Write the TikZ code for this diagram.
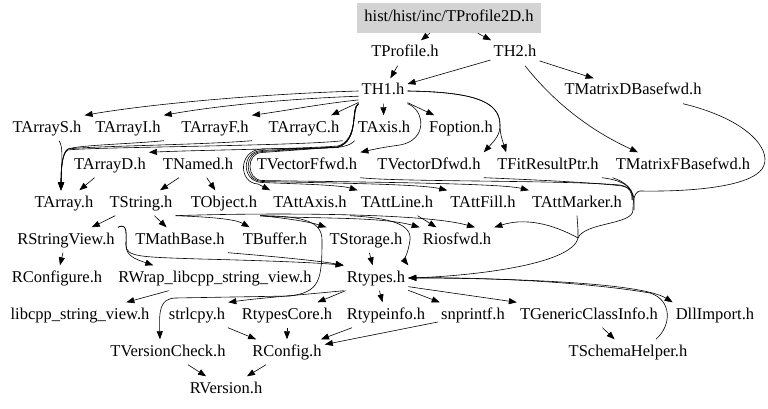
\documentclass[tikz,border=0pt]{standalone}
\usepackage{fontspec}
\setmainfont{Liberation Serif}
\usetikzlibrary{arrows.meta,calc}
\definecolor{rootgray}{RGB}{211,211,211}
\begin{document}
\begin{tikzpicture}[x=1pt,y=-1pt,
  n/.style={inner xsep=3pt,inner ysep=5pt,text height=11.5pt,text depth=3.5pt,font=\fontsize{16.5}{18}\selectfont},
  e/.style={-{Triangle[length=8pt,width=6pt]},line width=0.6pt},
  ln/.style={line width=0.6pt}]
\useasboundingbox (0,0) rectangle (768,409);
\fill[white] (0,0) rectangle (768,409);
% nodes
\node[n,fill=rootgray,minimum width=184pt,minimum height=30pt] (P2D) at (449,18) {hist/hist/inc/TProfile2D.h};
\node[n] (TProfile) at (405,53) {TProfile.h};
\node[n] (TH2) at (515,53) {TH2.h};
\node[n] (TH1) at (383,91) {TH1.h};
\node[n] (TMatD) at (633,91) {TMatrixDBasefwd.h};
\node[n] (TArrayS) at (47,128) {TArrayS.h};
\node[n] (TArrayI) at (128,128) {TArrayI.h};
\node[n] (TArrayF) at (215,128) {TArrayF.h};
\node[n] (TArrayC) at (304,128) {TArrayC.h};
\node[n] (TAxis) at (384,128) {TAxis.h};
\node[n] (Foption) at (461,128) {Foption.h};
\node[n] (TArrayD) at (110,165) {TArrayD.h};
\node[n] (TNamed) at (198,165) {TNamed.h};
\node[n] (TVecF) at (307,165) {TVectorFfwd.h};
\node[n] (TVecD) at (429,165) {TVectorDfwd.h};
\node[n] (TFit) at (548,165) {TFitResultPtr.h};
\node[n] (TMatF) at (683,165) {TMatrixFBasefwd.h};
\node[n] (TArray) at (64,203) {TArray.h};
\node[n] (TString) at (141,203) {TString.h};
\node[n] (TObject) at (224,203) {TObject.h};
\node[n] (TAttAxis) at (310,203) {TAttAxis.h};
\node[n] (TAttLine) at (397,203) {TAttLine.h};
\node[n] (TAttFill) at (483,203) {TAttFill.h};
\node[n] (TAttMarker) at (577,203) {TAttMarker.h};
\node[n] (RStringView) at (66,240) {RStringView.h};
\node[n] (TMathBase) at (180,240) {TMathBase.h};
\node[n] (TBuffer) at (275,240) {TBuffer.h};
\node[n] (TStorage) at (366,240) {TStorage.h};
\node[n] (Riosfwd) at (457,240) {Riosfwd.h};
\node[n] (RConfigure) at (57,278) {RConfigure.h};
\node[n] (RWrap) at (215,278) {RWrap\_libcpp\_string\_view.h};
\node[n] (Rtypes) at (376,278) {Rtypes.h};
\node[n] (libcpp) at (80,315) {libcpp\_string\_view.h};
\node[n] (strlcpy) at (197,315) {strlcpy.h};
\node[n] (RtypesCore) at (287,315) {RtypesCore.h};
\node[n] (Rtypeinfo) at (386,315) {Rtypeinfo.h};
\node[n] (snprintf) at (473,315) {snprintf.h};
\node[n] (TGeneric) at (589,315) {TGenericClassInfo.h};
\node[n] (DllImport) at (715,315) {DllImport.h};
\node[n] (TVersionCheck) at (168,352) {TVersionCheck.h};
\node[n] (RConfig) at (287,352) {RConfig.h};
\node[n] (TSchemaHelper) at (628,352) {TSchemaHelper.h};
\node[n] (RVersion) at (226,389) {RVersion.h};
% top edges
\draw[e] (P2D) -- (TProfile);
\draw[e] (P2D) -- (TH2);
\draw[e] (TProfile) -- (TH1);
\draw[e] (TH2) -- (TH1);
\draw[e] (TH2) -- (TMatD);
\draw[e] ($(TH2.south)+(10,0)$) .. controls (560,110) and (600,135) .. ($(TMatF.north)+(-45,0)$);
\draw[e] (TH1.west) .. controls (260,94) and (150,104) .. (TArrayS.north east);
\draw[e] (TH1.192) .. controls (280,99) and (210,107) .. (TArrayI.north east);
\draw[e] (TH1.200) .. controls (320,104) and (290,110) .. (TArrayF.north east);
\draw[e] (TH1) -- (TArrayC);
\draw[e] (TH1) -- (TAxis);
\draw[e] (TH1) -- (Foption);
% TArray bundle
\draw[e] ($(TArrayS.south)+(12,0)$) .. controls (63,147) and (62,155) .. ($(TArray.north)+(-3,0)$);
\draw[e] (TArrayI.south east) .. controls (130,144) and (80,145) .. (68,149) .. controls (62,152) and (61,170) .. ($(TArray.north)+(-3,0)$);
\draw[e] (TArrayF.south east) .. controls (200,145) and (90,146) .. (68,149) .. controls (62,152) and (61,170) .. ($(TArray.north)+(-3,0)$);
\draw[e] (TArrayC.south east) .. controls (300,146) and (90,147) .. (68,150) .. controls (62,153) and (61,170) .. ($(TArray.north)+(-3,0)$);
\draw[e] (TArrayD) -- (TArray);
% around TAxis
\draw[e] (TH1.south west) .. controls (352,108) and (358,140) .. (338,146) .. controls (300,149) and (200,150) .. (TArrayD.north east);
\draw[e] (TAxis.south west) .. controls (350,146) and (340,148) .. (325,148) -- (262,149) .. controls (238,150) and (238,183) .. (258,184) -- (TAttAxis.north west);
\draw[e] (TH1.south west) .. controls (350,108) and (360,140) .. (338,147) -- (262,150.5) .. controls (241,151) and (241,181.5) .. (262,182.5) .. controls (300,184) and (340,185) .. (TAttLine.north west);
\draw[e] (TH1.south west) .. controls (350,108) and (360,140) .. (338,147) -- (262,151.5) .. controls (243.5,152) and (243.5,180.5) .. (262,181.5) .. controls (330,183) and (420,184) .. (TAttFill.north west);
\draw[e] (TH1.south west) .. controls (350,108) and (360,140) .. (338,147) -- (262,152.5) .. controls (246,153) and (246,179.5) .. (262,180.5) .. controls (350,182) and (500,183) .. (TAttMarker.north west);
\draw[e] (TH1.south east) .. controls (425,110) and (428,140) .. (400,145) .. controls (385,147) and (375,149) .. (TVecF.north east);
\draw[e] (TH1.east) .. controls (470,92) and (500,100) .. (500,125) .. controls (500,135) and (495,140) .. (TVecD.north east);
\draw[e] (TH1.east) .. controls (470,92) and (500,100) .. (500,125) .. controls (500,135) and (503,142) .. ($(TFit.north west)+(12,0)$);
% right bundle to Rtypes
\draw[e] ($(TMatD.south)+(50,0)$) .. controls (750,120) and (770,150) .. (764,165) .. controls (758,185) and (700,192) .. (640,191) .. controls (633,192) and (633,205) .. (633,210) .. controls (633,225) and (585,222) .. (578,238) .. controls (572,265) and (470,276) .. (Rtypes.east);
\draw[ln] (TMatF.south west) .. controls (625,182) and (633,188) .. (633,200);
\draw[ln] (TVecF.south east) .. controls (400,182) and (560,180) .. (620,185) .. controls (630,187) and (632,192) .. (632,200);
\draw[ln] (TVecD.south east) .. controls (540,180) and (600,183) .. (622,186) .. controls (631,188) and (633,192) .. (633,200);
\draw[ln] (TFit.south east) .. controls (620,180) and (633,185) .. (634,200) -- (634,210);
\draw[ln] (TAttMarker.south) -- (578,230) -- (578,238);
\draw[e] (578,238) .. controls (560,228) and (530,216) .. (Riosfwd.north east);
% middle
\draw[e] (TNamed) -- (TString);
\draw[e] (TNamed) -- (TObject);
\draw[e] (TString) -- (TMathBase);
\draw[e] (TString) -- (RStringView);
\draw[e] (RStringView.north east) .. controls (128,222) and (126,235) .. (126,245) .. controls (126,256) and (135,259) .. ($(RWrap.north west)+(38,0)$);
\draw[e] (RStringView.north east) .. controls (128,222) and (126,235) .. (126,245) .. controls (126,257) and (140,257) .. (200,259) .. controls (280,261) and (320,263) .. (Rtypes.north west);
\draw[e] (TMathBase.south east) .. controls (280,257) and (320,261) .. (Rtypes.north west);
\draw[e] (TString.south east) .. controls (210,217) and (235,219) .. ($(TBuffer.north west)+(10,0)$);
\draw[e] (TString.south east) .. controls (250,213) and (420,212) .. ($(Riosfwd.north)+(18,0)$);
\draw[e] (TObject.south east) .. controls (285,218) and (310,222) .. (TStorage.north west);
\draw[e] (TObject.south east) .. controls (300,219) and (380,216) .. (Riosfwd.north west);
\draw[e] (TObject.south east) .. controls (305,216) and (322,222) .. (322,240) .. controls (322,280) and (320,292) .. (290,296) -- (175,298) .. controls (160,299) and (159,310) .. ($(TVersionCheck.north)+(-8,0)$);
\draw[e] (TStorage) -- (Rtypes);
\draw[e] (TAttAxis.south east) .. controls (390,218) and (412,224) .. (410,240) .. controls (408,254) and (404,260) .. (Rtypes.north east);
\draw[e] (TAttLine) -- (Riosfwd);
\draw[e] (RStringView) -- (RConfigure);
\draw[e] (RWrap) -- (libcpp);
% bottom
\draw[e] (Rtypes.south west) .. controls (300,295) and (260,298) .. (strlcpy.north east);
\draw[e] (Rtypes) -- (RtypesCore);
\draw[e] (Rtypes) -- (Rtypeinfo);
\draw[e] (Rtypes) -- (snprintf);
\draw[e] (Rtypes.345) -- (TGeneric.north west);
\draw[e] (Rtypes.east) .. controls (500,278) and (640,282) .. (DllImport.north west);
\draw[e] ($(TSchemaHelper.north)+(28,0)$) .. controls (672,325) and (672,300) .. (650,293) .. controls (580,281) and (470,277) .. (Rtypes.east);
\draw[e] (TGeneric) -- (TSchemaHelper);
\draw[e] (strlcpy) -- (RConfig);
\draw[e] (RtypesCore) -- (RConfig);
\draw[e] (Rtypeinfo) -- (RConfig);
\draw[e] (snprintf) -- (RConfig);
\draw[e] (RConfig) -- (RVersion);
\draw[e] (TVersionCheck) -- (RVersion);
\end{tikzpicture}
\end{document}
